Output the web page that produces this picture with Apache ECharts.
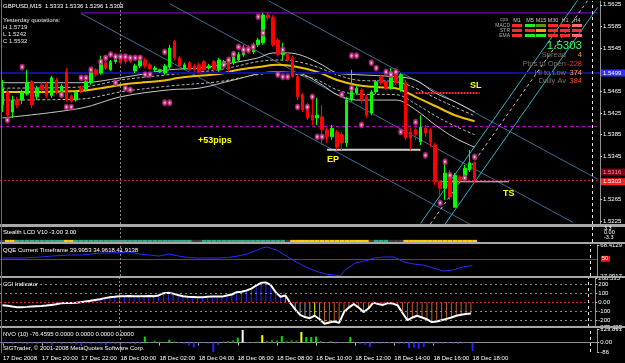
<!DOCTYPE html>
<html><head><meta charset="utf-8">
<script src="https://cdn.jsdelivr.net/npm/echarts@6/dist/echarts.min.js"></script>
<style>html,body{margin:0;padding:0;background:#000}#c{width:625px;height:363px}</style>
</head><body><div id="c"></div>
<script>
// ---------------- DATA ----------------
const xTickLabels = ['17 Dec 2008','17 Dec 20:00','17 Dec 22:00','18 Dec 00:00','18 Dec 02:00','18 Dec 04:00','18 Dec 06:00','18 Dec 08:00','18 Dec 10:00','18 Dec 12:00','18 Dec 14:00','18 Dec 16:00','18 Dec 18:00'];
const priceTicks = [1.5625,1.5585,1.5545,1.5465,1.5425,1.5385,1.5345,1.5265,1.5225];
// [open, close, low, high]
const candles = [
[1.5440,1.5471,1.5427,1.5486],[1.5464,1.5421,1.5412,1.5471],[1.5427,1.5449,1.5416,1.5457],[1.5449,1.5440,1.5434,1.5455],
[1.5449,1.5464,1.5442,1.5468],[1.5460,1.5481,1.5457,1.5505],[1.5483,1.5440,1.5434,1.5486],[1.5455,1.5471,1.5449,1.5475],
[1.5477,1.5468,1.5464,1.5483],[1.5479,1.5457,1.5453,1.5483],[1.5457,1.5490,1.5453,1.5494],[1.5486,1.5464,1.5460,1.5490],
[1.5464,1.5475,1.5460,1.5479],[1.5501,1.5449,1.5446,1.5508],[1.5457,1.5447,1.5444,1.5460],[1.5449,1.5464,1.5446,1.5468],
[1.5471,1.5466,1.5462,1.5475],[1.5468,1.5483,1.5464,1.5486],[1.5481,1.5501,1.5477,1.5505],[1.5505,1.5496,1.5492,1.5508],
[1.5499,1.5518,1.5496,1.5531],[1.5518,1.5508,1.5505,1.5521],[1.5505,1.5520,1.5503,1.5523],[1.5520,1.5531,1.5516,1.5534],
[1.5531,1.5518,1.5514,1.5534],[1.5529,1.5520,1.5516,1.5533],[1.5527,1.5520,1.5518,1.5529],[1.5503,1.5512,1.5499,1.5516],
[1.5512,1.5523,1.5508,1.5527],[1.5523,1.5512,1.5508,1.5527],[1.5514,1.5507,1.5505,1.5518],[1.5505,1.5508,1.5501,1.5512],
[1.5501,1.5505,1.5499,1.5507],[1.5499,1.5512,1.5496,1.5516],[1.5510,1.5545,1.5505,1.5551],[1.5557,1.5527,1.5523,1.5560],
[1.5527,1.5512,1.5510,1.5531],[1.5508,1.5514,1.5505,1.5518],[1.5518,1.5505,1.5503,1.5521],[1.5512,1.5505,1.5501,1.5516],
[1.5514,1.5501,1.5499,1.5518],[1.5520,1.5505,1.5503,1.5523],[1.5508,1.5512,1.5505,1.5516],[1.5520,1.5505,1.5501,1.5523],
[1.5505,1.5523,1.5501,1.5527],[1.5514,1.5520,1.5510,1.5523],[1.5523,1.5505,1.5501,1.5527],[1.5518,1.5529,1.5514,1.5533],
[1.5523,1.5533,1.5520,1.5538],[1.5533,1.5545,1.5529,1.5551],[1.5547,1.5538,1.5534,1.5551],[1.5538,1.5551,1.5534,1.5555],
[1.5551,1.5560,1.5547,1.5564],[1.5555,1.5606,1.5551,1.5610],[1.5606,1.5601,1.5597,1.5610],[1.5601,1.5551,1.5547,1.5606],
[1.5560,1.5533,1.5529,1.5564],[1.5533,1.5538,1.5523,1.5555],[1.5533,1.5523,1.5520,1.5538],[1.5527,1.5492,1.5490,1.5531],
[1.5492,1.5455,1.5449,1.5496],[1.5459,1.5431,1.5427,1.5462],[1.5440,1.5416,1.5412,1.5444],[1.5421,1.5412,1.5403,1.5459],
[1.5416,1.5421,1.5403,1.5453],[1.5418,1.5394,1.5366,1.5440],[1.5394,1.5381,1.5370,1.5399],[1.5381,1.5397,1.5375,1.5403],
[1.5390,1.5362,1.5357,1.5394],[1.5385,1.5370,1.5357,1.5390],[1.5370,1.5449,1.5362,1.5455],[1.5449,1.5468,1.5446,1.5505],
[1.5462,1.5471,1.5459,1.5477],[1.5468,1.5449,1.5442,1.5471],[1.5455,1.5421,1.5416,1.5459],[1.5425,1.5464,1.5421,1.5468],
[1.5464,1.5483,1.5460,1.5486],[1.5492,1.5481,1.5477,1.5496],[1.5483,1.5471,1.5468,1.5486],[1.5471,1.5501,1.5468,1.5508],
[1.5505,1.5481,1.5477,1.5508],[1.5468,1.5496,1.5464,1.5499],[1.5481,1.5379,1.5375,1.5486],[1.5390,1.5379,1.5357,1.5397],
[1.5394,1.5385,1.5375,1.5399],[1.5372,1.5399,1.5366,1.5421],[1.5397,1.5388,1.5381,1.5403],[1.5394,1.5372,1.5362,1.5397],
[1.5366,1.5298,1.5292,1.5370],[1.5298,1.5286,1.5273,1.5301],[1.5286,1.5314,1.5264,1.5338],[1.5310,1.5270,1.5264,1.5320],
[1.5251,1.5310,1.5251,1.5314],[1.5307,1.5301,1.5298,1.5310],[1.5305,1.5323,1.5301,1.5329],[1.5320,1.5333,1.5316,1.5357],
[1.5333,1.5303,1.5296,1.5336]
];
const maYellow = [[0,1.5464],[8,1.5464],[16,1.5466],[20,1.5471],[24,1.5477],[28,1.5481],[32,1.5484],[36,1.5490],[40,1.5494],[44,1.5497],[48,1.5505],[52,1.5510],[56,1.5514],[60,1.5510],[64,1.5501],[68,1.5486],[72,1.5477],[76,1.5473],[80,1.5471],[82,1.5464],[84,1.5455],[88,1.5438],[92,1.5421],[96,1.5410]];
const maUpper = [[0,1.5481],[16,1.5481],[24,1.5490],[34,1.5505],[40,1.5508],[47,1.5518],[52,1.5527],[55,1.5536],[58,1.5536],[61,1.5531],[65,1.5514],[68,1.5499],[72,1.5496],[80,1.5492],[84,1.5486],[88,1.5462],[92,1.5446],[96,1.5427]];
const maLower = [[0,1.5416],[16,1.5434],[24,1.5455],[34,1.5468],[40,1.5471],[47,1.5486],[55,1.5501],[60,1.5499],[65,1.5477],[68,1.5459],[72,1.5449],[80,1.5449],[84,1.5431],[88,1.5403],[92,1.5379],[96,1.5362]];
const maInnerUp = [[0,1.5471],[16,1.5473],[24,1.5486],[34,1.5496],[44,1.5505],[52,1.5520],[56,1.5523],[60,1.5520],[64,1.5510],[68,1.5496],[72,1.5486],[80,1.5483],[84,1.5471],[88,1.5453],[92,1.5436],[96,1.5420]];
const maInnerLow = [[0,1.5449],[16,1.5451],[24,1.5464],[34,1.5475],[44,1.5483],[52,1.5496],[56,1.5499],[60,1.5496],[64,1.5486],[68,1.5468],[72,1.5460],[80,1.5459],[84,1.5442],[88,1.5420],[92,1.5401],[96,1.5385]];
const channelDown = [[[16,1.5609],[96,1.5215]], [[34,1.5627],[116,1.5223]], [[54,1.5633],[121,1.5303]]];
const channelUp = [[[85,1.5221],[117,1.5634]], [[90,1.5220],[121,1.5620]]];
const channelUpMid = [[87,1.5220],[119,1.5633]];
const topLine = [[16,1.5610],[121,1.5610]];
const levelBottom = 1.5242, levelPivot = 1.5425, levelBlue = 1.5499, levelDarkRed = 1.5316, levelPink = 1.5296;
const slLine = [[84,1.5462],[97,1.5462]];
const epLine = [[66,1.5357],[85,1.5357]];
const tsLine = [[89,1.5298],[103,1.5298]];
const patternMarks = [[4,1.5510],[18,1.5505],[16,1.5490],[17,1.5490],[20,1.5520],[21,1.5527],[22,1.5533],[23,1.5529],[24,1.5529],[25,1.5529],[26,1.5527],[27,1.5527],[28,1.5527],[29,1.5496],[30,1.5496],[33,1.5538],[33,1.5444],[34,1.5444],[25,1.5471],[26,1.5468],[23,1.5481],[12,1.5459],[13,1.5436],[14,1.5436],[1,1.5412],[52,1.5603],[53,1.5573],[48,1.5547],[49,1.5542],[50,1.5542],[51,1.5547],[47,1.5534],[46,1.5523],[45,1.5514],[56,1.5496],[57,1.5492],[58,1.5492],[57,1.5542],[60,1.5436],[63,1.5455],[62,1.5436],[64,1.5381],[65,1.5381],[71,1.5531],[72,1.5531],[75,1.5518],[76,1.5508],[78,1.5501],[79,1.5496],[80,1.5501],[69,1.5459],[71,1.5471],[73,1.5403],[81,1.5390],[84,1.5408],[86,1.5347],[90,1.5335],[91,1.5310],[89,1.5259],[94,1.5305],[96,1.5344]];
const lcdState = 'n'+'yy'+'gggggggggg'+'yy'+'gggggggggggggggggggggggg'+'nn'+'ggggggggggggggggg'+'n'+'yyyyyyyyyyyyyyyy'+'n'+'ggg'+'nnn'+'yyyyyyyyyyyyyyy';
const qqe = [[0,51.1],[2,51.1],[4,51.1],[6,51.7],[8,52.4],[10,53.7],[12,54.4],[14,55.1],[16,55.1],[18,56.4],[20,57.7],[22,57.7],[24,58.4],[26,59.1],[28,56.4],[30,55.1],[32,53.7],[34,56.4],[36,53.7],[38,51.7],[40,51.1],[42,51.1],[44,51.1],[46,51.7],[48,53.7],[50,56.4],[52,61.7],[53,64.4],[54,65.7],[56,61.7],[58,53.7],[60,45.7],[62,39.1],[64,33.7],[66,29.7],[68,28.4],[69,27.1],[70,35.1],[72,44.4],[74,47.1],[76,51.1],[78,52.4],[80,52.4],[82,45.7],[84,43.1],[86,41.7],[88,37.7],[90,33.7],[92,35.1],[94,39.1],[96,41.1]];
const qqeLevel = 50;
const cci = [-35,-40,-48,-55,-55,-52,-48,-45,-42,-38,-30,-22,-12,-10,-8,-5,0,8,15,25,33,45,55,60,66,66,68,66,65,66,70,66,75,100,105,95,80,66,60,58,55,55,60,62,62,62,75,85,110,115,130,150,185,215,220,190,110,60,75,-10,-80,-140,-165,-178,-150,-190,-240,-225,-215,-230,-110,-60,-20,-60,-110,-70,-5,-20,-30,-10,-15,-35,-120,-200,-170,-150,-170,-190,-220,-215,-200,-185,-170,-150,-140,-130,-125];
const cciState = '------------------'+'bbbbbbbbbbbbbbbbbbbbbbbbbbbbbbbbbbbbbbbb'+'wwwwww'+'y'+'w'+'ooooooooooooooooooooooooooooooo';
const cciLevels = [200,100,-100,-200];
const nvo = [-12,-10,-15,-8,-12,-18,-10,-14,-9,-12,-20,-8,-15,-10,-12,-18,-22,-9,-14,-11,-16,-25,-10,-13,-20,-8,-12,-15,-10,
55,-4,20,10,-3,25,10,-5,-10,-25,-45,-8,-5,-10,-86,-22,10,15,20,45,115,-5,5,10,68,15,25,20,60,15,25,20,97,50,50,55,15,5,15,-10,-5,5,50,
-3,-15,-20,-40,-8,-10,-8,-6,-8,-12,-10,-50,-45,-55,-40,-10,-12,-8,-10,-6,-10,-12,-8,-5,-76.4595];
const nvoState = 'bbbbbbbbbbbbbbbbbbbbbbbbbbbbb'+'gbddbgd'+'bbbbbbbbb'+'dddgwbddy'+'dddg'+'dddy'+'ggg'+'ddd'+'bbdg'+'bbbbbbbbbbbbbbbbbbbbbbbbb';
const tfHeaders = ['M1','M5','M15','M30','H1','H4'];
const tfRows = ['MACD','STR','EMA'];
const tfStates = [['r','g','o','r','r','s'],['r','r','c','r','r','r'],['r','g','g','r','r','s']];
const infoLabels = ['Spread','Pips to Open','Hi to Low','Daily Av'];
const infoValues = ['4','-228','374','384'];
const bidText = '1.5303';
const priceBoxes = [['1.5499',1.5499,'blue'],['1.5316',1.5316,'dark'],['1.5303',1.5298,'red']];

// ---------------- BUILD ----------------
const N = 122;
const times = [];
for (let i = 0; i < N; i++) {
  const m = 18*60 + i*15; const d = 17 + Math.floor(m/1440); const mm = m % 1440;
  times.push(d + ' Dec ' + String(Math.floor(mm/60)).padStart(2,'0') + ':' + String(mm%60).padStart(2,'0'));
}
const FONT = '"Liberation Sans", Arial, sans-serif';
const grids = [
  {left:0, top:1, width:600, height:223},
  {left:0, top:227, width:600, height:15},
  {left:0, top:245, width:600, height:31},
  {left:0, top:278, width:600, height:49},
  {left:0, top:329, width:600, height:23}
];
const xAxes = grids.map((g,k)=>({
  type:'category', gridIndex:k, data:times, boundaryGap:true,
  axisLine:{show:k===4, lineStyle:{color:'#909090'}},
  axisTick:{show:k===4, length:3, alignWithLabel:true, interval:(i)=>i%8===0 && i<=96, lineStyle:{color:'#c0c0c0'}},
  axisLabel:{show:k===4, interval:(i)=>i%8===0 && i<=96, align:'left', margin:3, fontSize:6, color:'#ffffff', fontFamily:FONT,
    formatter:(v,i)=> (i%8===0 && i/8 < xTickLabels.length) ? xTickLabels[i/8] : ''},
  splitLine:{show:false}
}));
const axisLabelBase = {fontSize:6, color:'#ffffff', fontFamily:FONT, margin:3};
const yAxes = [
  {type:'value', gridIndex:0, position:'right', min:1.5220, max:1.5632, splitLine:{show:false},
   axisLine:{show:true, lineStyle:{color:'#909090'}}, axisTick:{show:true, length:2, customValues:priceTicks, lineStyle:{color:'#c0c0c0'}},
   axisLabel:Object.assign({customValues:priceTicks, formatter:(v)=>v.toFixed(4)}, axisLabelBase)},
  {type:'value', gridIndex:1, min:0, max:7, show:false},
  {type:'value', gridIndex:2, position:'right', min:27.0917, max:68.4129, splitLine:{show:false},
   axisLine:{show:true, lineStyle:{color:'#909090'}}, axisTick:{show:true,length:2,customValues:[68.4129,27.0917],lineStyle:{color:'#c0c0c0'}},
   axisLabel:Object.assign({customValues:[68.4129,27.0917], formatter:(v)=>v.toFixed(4)}, axisLabelBase)},
  {type:'value', gridIndex:3, position:'right', min:-275.425, max:268.535, splitLine:{show:false},
   axisLine:{show:true, lineStyle:{color:'#909090'}}, axisTick:{show:true,length:2,customValues:[268.535,200,100,0,-100,-200,-275.425],lineStyle:{color:'#c0c0c0'}},
   axisLabel:Object.assign({customValues:[268.535,200,100,0,-100,-200,-275.425], formatter:(v)=> v===0?'0.00':String(v)}, axisLabelBase)},
  {type:'value', gridIndex:4, position:'right', min:-86, max:123.891, splitLine:{show:false},
   axisLine:{show:true, lineStyle:{color:'#909090'}}, axisTick:{show:true,length:2,customValues:[123.891,0,-86],lineStyle:{color:'#c0c0c0'}},
   axisLabel:Object.assign({customValues:[123.891,0,-86], formatter:(v)=> v===0?'0.00':String(v)}, axisLabelBase)}
];
function vLines(){
  return [{xAxis:times[24], lineStyle:{color:'#8a8a8a', type:[2,2], width:1}},
          {xAxis:times[120], lineStyle:{color:'#e8e8e8', type:[3,3], width:1}}];
}
function ml(data){ return {silent:true, symbol:['none','none'], label:{show:false}, animation:false, data:data}; }
const S = [];
S.push({type:'line', xAxisIndex:0, yAxisIndex:0, data:[], z:1, markLine:ml([
  {yAxis:levelBottom, lineStyle:{color:'#9b00d0', type:'solid', width:1}},
  {yAxis:levelPivot, lineStyle:{color:'#b000c0', type:[3,3], width:1}},
  {yAxis:levelBlue, lineStyle:{color:'#10109a', type:'solid', width:2}},
  {yAxis:levelDarkRed, lineStyle:{color:'#780018', type:[2,2], width:1}},
  {yAxis:levelPink, lineStyle:{color:'#d8105a', type:[2,2], width:1}}
].concat(vLines()))});
S.push({type:'line', xAxisIndex:0, yAxisIndex:0, data:topLine, showSymbol:false, z:1, silent:true, lineStyle:{color:'#9b00d0', width:1}});
channelDown.forEach((seg)=>S.push({type:'line', xAxisIndex:0, yAxisIndex:0, data:seg, showSymbol:false, z:2, silent:true,
  lineStyle:{color:'#3a6e98', width:1, type:'solid'}}));
channelUp.forEach(seg=>S.push({type:'line', xAxisIndex:0, yAxisIndex:0, data:seg, showSymbol:false, z:2, silent:true,
  lineStyle:{color:'#24b4c8', width:1}}));
S.push({type:'line', xAxisIndex:0, yAxisIndex:0, data:channelUpMid, showSymbol:false, z:2, silent:true, lineStyle:{color:'#c8c8c8', width:1, type:[3,3]}});
[[maUpper,'#c8c8c8',1,'solid'],[maLower,'#c8c8c8',1,'solid'],[maInnerUp,'#b8b8b8',1,[3,2]],[maInnerLow,'#b8b8b8',1,[3,2]],[maYellow,'#f0c000',2,'solid']]
 .forEach(([d,c,w,t])=>S.push({type:'line', xAxisIndex:0, yAxisIndex:0, data:d, smooth:0.35, showSymbol:false, z:3, silent:true, lineStyle:{color:c, width:w, type:t}}));
S.push({type:'line', xAxisIndex:0, yAxisIndex:0, data:slLine, showSymbol:false, z:3, lineStyle:{color:'#ff2a3a', width:2, type:[2,1]}});
S.push({type:'line', xAxisIndex:0, yAxisIndex:0, data:epLine, showSymbol:false, z:3, lineStyle:{color:'#d0d0d0', width:2}});
S.push({type:'line', xAxisIndex:0, yAxisIndex:0, data:tsLine, showSymbol:false, z:3, lineStyle:{color:'#9ff0d8', width:1}});
S.push({type:'candlestick', xAxisIndex:0, yAxisIndex:0, data:candles, barWidth:3, z:5,
  itemStyle:{color:'#00ff00', color0:'#ff0000', borderColor:'#00ff00', borderColor0:'#ff0000', borderWidth:1}});
S.push({type:'scatter', xAxisIndex:0, yAxisIndex:0, data:patternMarks, symbol:'emptyCircle', symbolSize:[3.5,4.5], z:6,
  itemStyle:{color:'#c8247e', borderColor:'#c8247e', borderWidth:1}});
const lcdColor = {g:'#2fae86', y:'#ffcc00', n:'#404040'};
S.push({type:'bar', xAxisIndex:1, yAxisIndex:1, barCategoryGap:'0%', z:3,
  data: lcdState.split('').map(s=>({value:1, itemStyle:{color:lcdColor[s]}})), markLine:ml(vLines())});
S.push({type:'line', xAxisIndex:2, yAxisIndex:2, data:qqe, showSymbol:false, z:3, lineStyle:{color:'#2a2aff', width:1},
  markLine:ml([{yAxis:qqeLevel, lineStyle:{color:'#c0105a', type:'solid', width:1}}].concat(vLines()))});
const cciColor = {b:'#2424ff', w:'#9a9a9a', y:'#ffff00', o:'#c0601e'};
S.push({type:'bar', xAxisIndex:3, yAxisIndex:3, barWidth:1, z:2,
  data: cci.map((v,i)=> cciState[i]==='-' ? '-' : {value:v, itemStyle:{color:cciColor[cciState[i]]}}),
  markLine:ml(cciLevels.map(v=>({yAxis:v, lineStyle:{color:'#8a8a8a', type:[2,3], width:1}}))
    .concat([{yAxis:0, lineStyle:{color:'#d02020', type:[2,2], width:1}}]).concat(vLines()))});
S.push({type:'line', xAxisIndex:3, yAxisIndex:3, data:cci, showSymbol:false, z:4, lineStyle:{color:'#ffffff', width:2}});
const nvoColor = {b:'#2424ff', g:'#00e000', d:'#1f7f1f', y:'#ffff00', w:'#ffffff'};
S.push({type:'bar', xAxisIndex:4, yAxisIndex:4, barWidth:2, z:3,
  data: nvo.map((v,i)=>({value:v, itemStyle:{color:nvoColor[nvoState[i]]}})), markLine:ml(vLines())});

const option = {
  backgroundColor:'#000000', animation:false,
  textStyle:{fontFamily:FONT},
  grid:grids, xAxis:xAxes, yAxis:yAxes, series:S
};
const chart = echarts.init(document.getElementById('c'));
chart.setOption(option);

function T(x,y,text,fill,size,align,weight){
  return {type:'text', x:x, y:y, z:100, silent:true, style:{text:text, fill:fill, font:(weight||'normal')+' '+size+'px '+FONT,
    align:align||'left', textAlign:align||'left', verticalAlign:'middle', textVerticalAlign:'middle'}};
}
function R(x,y,w,h,fill,z){ return {type:'rect', z:z||90, silent:true, shape:{x:x,y:y,width:w,height:h}, style:{fill:fill}}; }
const G = [];
G.push(R(0,224,625,3,'#a8a8a8'), R(0,242,625,2,'#a8a8a8'), R(0,276,625,2,'#a8a8a8'), R(0,326,625,2,'#a8a8a8'));
G.push(R(1,0,1,353,'#707070'));
G.push(T(3,6,'GBPUSD,M15  1.5333 1.5336 1.5296 1.5303','#ffffff',6));
G.push(T(3,20,'Yesterday quotations:','#e6e6e6',6), T(3,27,'H 1.5719','#e6e6e6',6), T(3,34,'L 1.5242','#e6e6e6',6), T(3,41,'C 1.5532','#e6e6e6',6));
G.push(T(198,141,'+53pips','#ffff00',9,'left','bold'), T(327,160,'EP','#ffff00',9,'left','bold'), T(470,86,'SL','#ffff00',9,'left','bold'), T(503,194,'TS','#ffff00',9,'left','bold'));
const colX = [517,530,541,553,565,577], rowY = [25.5,30.5,35.5];
const tfColor = {r:'#ff2a2a', g:'#22ee22', o:'#5f9a00', s:'#ff6a6a', c:'#ff9a20'};
G.push(T(500,20,'cpa','#9a9a9a',5));
tfHeaders.forEach((h,j)=>G.push(T(colX[j],20,h,'#c8c8c8',5.5,'center')));
tfRows.forEach((r,i)=>{ G.push(T(510,rowY[i],r,'#b0b0b0',5,'right'));
  tfStates[i].forEach((s,j)=>G.push(R(colX[j]-5,rowY[i]-1.5,10,3,tfColor[s])));});
G.push(T(582,45.5,bidText,'#33ff5a',11.5,'right'));
const infoY = [55,63.5,72.5,81], infoVC = ['#ff9a00','#ff3030','#ffa820','#ff4a20'];
infoLabels.forEach((l,i)=>{ G.push(T(566,infoY[i],l,'#7f7264',7.5,'right')); G.push(T(582,infoY[i],infoValues[i],infoVC[i],7.5,'right')); });
G.push(T(3,232,'Stealth LCD V10 -3.00 3.00','#ffffff',6));
G.push(T(3,250,'QQE Current Timeframe 39.9953 34.9618.41.9138','#ffffff',6));
G.push(T(3,284,'CCI Indicator','#ffffff',6));
G.push(T(3,334,'NVO (10) -76.4595 0.0000 0.0000 0.0000 0.0000','#ffffff',6));
G.push(T(3,348,'SIGTrader, \u00a9 2001-2008 MetaQuotes Software Corp.','#ffffff',6));
G.push(T(604,228,'3.3','#ffffff',5.5), T(604,232.5,'0.00','#ffffff',5.5), T(604,237.5,'-3.3','#ffffff',5.5));
const boxStyle = {blue:['#3232ff','#ffffff'], dark:['#7a0018','#ff8a9a'], red:['#ff2020','#ffffff']};
priceBoxes.forEach(([t,p,k])=>{ const y = chart.convertToPixel({yAxisIndex:0}, p);
  G.push(R(601,y-3.5,24,7,boxStyle[k][0],95)); G.push(T(603,y,t,boxStyle[k][1],6)); });
const yq = chart.convertToPixel({yAxisIndex:2}, qqeLevel);
G.push(R(601,yq-3,9,6,'#ff1010',95), T(602,yq,'50','#ffffff',5.5));
chart.setOption({graphic:G});
</script></body></html>
